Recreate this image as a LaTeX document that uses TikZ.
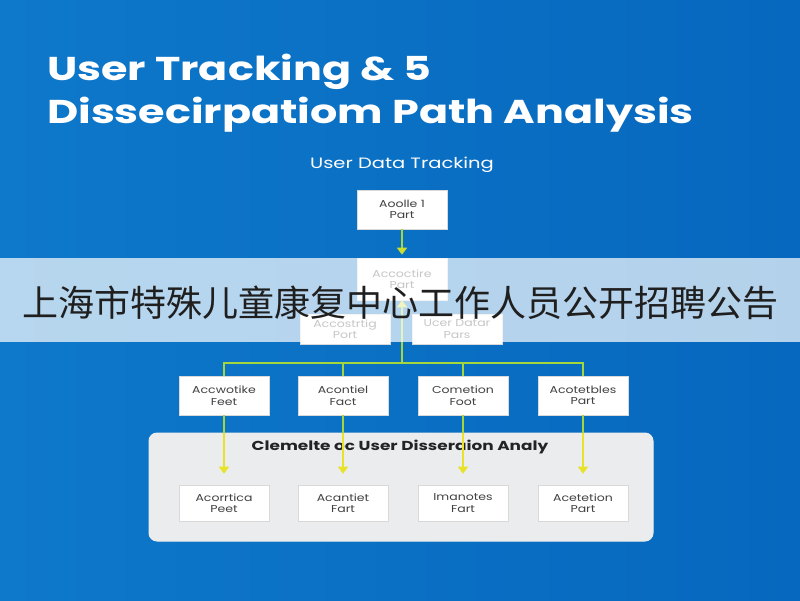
\documentclass[tikz,border=0pt]{standalone}
\usepackage{fontspec}
\setmainfont{Poppins}
\newfontfamily\widefont[FakeStretch=1.3]{Poppins}
\newfontfamily\boxfont[FakeStretch=1.25]{Poppins}
\newfontfamily\cjk{Noto Sans CJK SC}
\usetikzlibrary{arrows.meta}
\definecolor{bgA}{RGB}{14,120,202}
\definecolor{bgB}{RGB}{6,104,190}
\definecolor{lime}{RGB}{165,215,60}
\definecolor{yel}{RGB}{232,226,40}
\definecolor{paneltxt}{RGB}{35,35,35}
\definecolor{boxtxt}{RGB}{65,65,65}
\definecolor{panelfill}{RGB}{235,236,238}
\begin{document}
\begin{tikzpicture}[x=1pt,y=-1pt,
  box/.style={draw=black!15, line width=0.6pt, fill=white, minimum width=90pt,
    minimum height=39pt, inner sep=1pt, align=center,
    font=\boxfont\fontsize{10}{11.5}\selectfont, text=boxtxt},
  link/.style={draw=lime, line width=1.8pt},
  ylink/.style={draw=yel, line width=1.8pt},
  tipg/.style={-{Triangle[width=10pt,length=7pt,color=yel!55!lime]}},
  tipy/.style={-{Triangle[width=10pt,length=7pt,color=yel]}}
]
\useasboundingbox (0,0) rectangle (800,600);
\shade[left color=bgA, right color=bgB] (0,0) rectangle (800,600);

% titles
\node[anchor=base west, text=white, inner sep=0pt, font=\widefont\fontsize{33}{38}\selectfont\bfseries] (t1) at (47,80) {User Tracking \& 5};
\node[anchor=base west, text=white, inner sep=0pt, font=\widefont\fontsize{33}{38}\selectfont\bfseries] (t2) at (47,123) {Dissecirpatiom Path Analysis};
\node[text=white, font=\widefont\fontsize{15}{18}\selectfont] (sub) at (402,165) {User Data Tracking};

% panel
\node[draw=white!85!gray, line width=1pt, fill=panelfill, rounded corners=8pt,
  minimum width=504pt, minimum height=108pt] (panel) at (401,487) {};
\node[text=paneltxt, font=\widefont\fontsize{13}{15}\selectfont\bfseries] (ptitle) at (400,447) {Clemelte oc User Disseraion Analy};

% boxes
\node[box] (A) at (402,209.5) {Aoolle 1\\Part};
\node[box, minimum height=42pt] (B) at (402,279) {Accoctire\\Part};
\node[box, minimum height=30pt] (C) at (345,329) {Accostrtig\\Port};
\node[box, minimum height=30pt] (D) at (457,329) {Ucer Datar\\Pars};

\node[box] (r2a) at (224,395.5) {Accwotike\\Feet};
\node[box] (r2b) at (343,395.5) {Acontiel\\Fact};
\node[box] (r2c) at (463,395.5) {Cometion\\Foot};
\node[box] (r2d) at (583,395.5) {Acotetbles\\Part};

\node[box, minimum height=36pt] (r3a) at (224,503) {Acorrtica\\Peet};
\node[box, minimum height=36pt] (r3b) at (343,503) {Acantiet\\Fart};
\node[box, minimum height=36pt] (r3c) at (463,503) {Imanotes\\Fart};
\node[box, minimum height=36pt] (r3d) at (583,503) {Acetetion\\Part};

% connectors
\coordinate (j) at (402,363);
\draw[link, tipg, shorten >=3pt] (A) -- (B);
\draw[link, tipg] (j) -- (B.south);
\foreach \n in {r2a,r2b,r2c,r2d} {
  \draw[link] (j) -| (\n.north);
}
\foreach \a/\b in {r2a/r3a,r2b/r3b,r2c/r3c,r2d/r3d} {
  \coordinate (p\a) at (\a.south |- panel.north);
  \draw[link] (\a.south) -- (p\a);
  \draw[ylink, tipy, shorten >=11pt] (p\a) -- (\b.north);
}

% overlay band
\fill[white, opacity=0.7] (0,258) rectangle (800,342);
\node[text=black!88, inner sep=0pt, font=\cjk\fontsize{36}{40}\selectfont] (cn) at (400,303) {上海市特殊儿童康复中心工作人员公开招聘公告};
\end{tikzpicture}
\end{document}
